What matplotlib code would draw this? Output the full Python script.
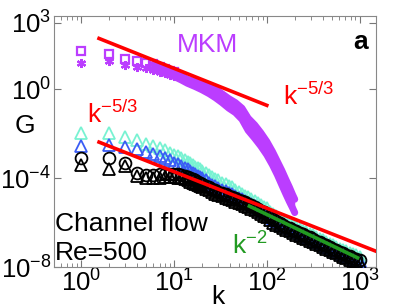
import numpy as np
import matplotlib
matplotlib.use('Agg')
import matplotlib.pyplot as plt

plt.rcParams['font.family'] = ['Liberation Sans', 'DejaVu Sans']
plt.rcParams['mathtext.fontset'] = 'custom'
plt.rcParams['mathtext.rm'] = 'Liberation Sans'
plt.rcParams['mathtext.it'] = 'Liberation Sans:italic'
plt.rcParams['mathtext.bf'] = 'Liberation Sans:bold'

# MKM spectrum (log10 G), squares and asterisks
mkm_k = [1, 2, 3, 4, 5, 6, 7, 8, 9, 10, 12, 14, 17, 20, 24, 28, 33, 39, 46, 54,
         63, 74, 86, 100, 115, 130, 145, 160, 175, 190, 200]
mkm_sq_logG = [1.73, 1.57, 1.35, 1.26, 1.20, 1.13, 1.02, 0.93, 0.84, 0.76, 0.60, 0.45,
               0.35, 0.25, 0.13, 0.0, -0.2, -0.42, -0.6, -0.85, -1.3, -1.6, -1.95,
               -2.35, -2.8, -3.25, -3.65, -4.05, -4.4, -4.75, -4.95]
mkm_st_logG = [1.17, 1.26, 1.08, 1.00, 0.94, 0.88, 0.80, 0.72, 0.65, 0.58, 0.42, 0.27,
               0.12, -0.02, -0.2, -0.38, -0.6, -0.85, -1.05, -1.35, -1.85, -2.2, -2.55,
               -2.95, -3.4, -3.85, -4.3, -4.7, -5.05, -5.35, -5.55]

# channel flow, Re=500 (log10 G)
ch_k = [1, 2, 3, 4, 5, 6, 7, 8, 9, 10, 11, 12, 13, 14, 15, 16, 17, 18, 19, 20,
        22, 24, 26, 28, 30, 33, 36, 39, 42, 46, 50, 54, 58, 63, 68, 74, 80, 87, 94, 100,
        108, 117, 127, 138, 150, 163, 177, 192, 208, 226, 245, 266, 289, 314, 341, 370,
        402, 437, 475, 516, 560, 608, 660, 717, 779, 846, 919, 1000]
cyan_logG = [-1.95, -1.95, -2.15, -2.3, -2.45, -2.55, -2.65, -2.75, -2.85, -2.95,
             -3.02, -3.1, -3.18, -3.25, -3.33, -3.4, -3.48, -3.54, -3.6, -3.66,
             -3.78, -3.86, -3.95, -4.02, -4.1, -4.2, -4.27, -4.33, -4.4, -4.52,
             -4.62, -4.7, -4.78, -4.86, -4.93, -5.02, -5.1, -5.2, -5.28, -5.35,
             -5.5, -5.62, -5.72, -5.82, -5.9, -5.98, -6.06, -6.13, -6.2, -6.28,
             -6.36, -6.43, -6.5, -6.57, -6.65, -6.72, -6.8, -6.88, -6.95, -7.03,
             -7.1, -7.17, -7.24, -7.3, -7.36, -7.43, -7.48, -7.53]
blue_logG = [-2.55, -2.5, -2.6, -2.7, -2.8, -2.9, -3.0, -3.1, -3.2, -3.3,
             -3.37, -3.45, -3.52, -3.6, -3.67, -3.75, -3.82, -3.88, -3.95, -4.0,
             -4.1, -4.2, -4.3, -4.37, -4.45, -4.52, -4.58, -4.65, -4.7, -4.8,
             -4.88, -4.95, -5.02, -5.1, -5.17, -5.25, -5.33, -5.42, -5.5, -5.57,
             -5.72, -5.85, -5.95, -6.05, -6.13, -6.2, -6.28, -6.35, -6.42, -6.5,
             -6.57, -6.64, -6.71, -6.78, -6.86, -6.93, -7.0, -7.08, -7.15, -7.23,
             -7.3, -7.37, -7.44, -7.5, -7.56, -7.63, -7.68, -7.74]
circ_logG = [-3.1, -3.1, -3.3, -3.75, -3.85, -3.85, -3.82, -3.8, -3.8, -3.8,
             -3.82, -3.85, -3.9, -3.95, -4.0, -4.05, -4.1, -4.15, -4.2, -4.25,
             -4.33, -4.4, -4.48, -4.54, -4.6, -4.66, -4.72, -4.78, -4.83, -4.9,
             -4.97, -5.03, -5.09, -5.16, -5.22, -5.3, -5.38, -5.46, -5.54, -5.6,
             -5.75, -5.85, -5.94, -6.02, -6.1, -6.18, -6.25, -6.32, -6.39, -6.46,
             -6.53, -6.6, -6.67, -6.74, -6.81, -6.88, -6.95, -7.03, -7.1, -7.17,
             -7.24, -7.31, -7.38, -7.45, -7.52, -7.58, -7.63, -7.68]
tri_logG = [-3.4, -3.6, -3.45, -3.9, -4.0, -4.0, -3.97, -3.95, -3.95, -3.95,
            -3.97, -4.0, -4.05, -4.1, -4.15, -4.2, -4.25, -4.3, -4.35, -4.4,
            -4.48, -4.55, -4.63, -4.69, -4.75, -4.81, -4.87, -4.93, -4.98, -5.05,
            -5.12, -5.18, -5.24, -5.31, -5.37, -5.45, -5.53, -5.61, -5.69, -5.75,
            -5.9, -6.0, -6.09, -6.17, -6.25, -6.33, -6.4, -6.47, -6.54, -6.61,
            -6.68, -6.75, -6.82, -6.89, -6.96, -7.03, -7.1, -7.18, -7.25, -7.32,
            -7.39, -7.46, -7.53, -7.6, -7.67, -7.73, -7.78, -7.83]

# guide lines (end points)
red1_k, red1_G = [1.56, 100], [195, 0.19]
red2_k, red2_G = [1.56, 1490], [4.2e-3, 5.2e-8]
green_k, green_G = [65, 950], [5.5e-6, 2.6e-8]

purple = '#BB3DFF'
cyan = '#78F2D2'
blue = '#3A5CF5'
green = '#229A22'

fig = plt.figure(figsize=(4.15, 3.08), dpi=100)
ax = fig.add_axes([0.130, 0.133, 0.776, 0.815])

mk = np.array(mkm_k)
sq = 10 ** np.array(mkm_sq_logG)
st = 10 ** np.array(mkm_st_logG)
band = mk >= 6
low = mk <= 10
ax.fill_between(mk[band], st[band], sq[band], color=purple, lw=0, zorder=2)
ax.plot(mk[band], sq[band], '-', color=purple, lw=5, solid_capstyle='round', zorder=2)
ax.plot(mk[band], st[band], '-', color=purple, lw=5, solid_capstyle='round', zorder=2)
ax.plot(mk[low], sq[low], 's', ms=5.5, mfc='none', mec=purple, mew=1.6, zorder=2)
ax.plot(mk[low], st[low], marker=(6, 2, 0), ls='none', ms=6.5, mec=purple, mew=1.6, zorder=2)

ck = np.array(ch_k)
ax.plot(ck, 10 ** np.array(cyan_logG), '^', ms=8.5, mfc='none', mec=cyan, mew=1.3, zorder=3)
ax.plot(ck, 10 ** np.array(blue_logG), '^', ms=8.5, mfc='none', mec=blue, mew=1.3, zorder=3)
ax.plot(ck, 10 ** np.array(tri_logG), '^', ms=8.5, mfc='none', mec='black', mew=1.3, zorder=3)
ax.plot(ck, 10 ** np.array(circ_logG), 'o', ms=8.5, mfc='none', mec='black', mew=1.3, zorder=3)

ax.plot(red1_k, red1_G, color='red', lw=2.6, zorder=4)
ax.plot(red2_k, red2_G, color='red', lw=2.6, zorder=4)
ax.plot(green_k, green_G, color=green, lw=2.6, zorder=5)

ax.set_xscale('log')
ax.set_yscale('log')
ax.set_xlim(0.51, 1500)
ax.set_ylim(1e-8, 10 ** 3.3)
ax.set_yticks([1e-8, 1e-4, 1, 1e3])
ax.set_yticklabels(['$10^{-8}$', '$10^{-4}$', '$10^{0}$', '$10^{3}$'])
ax.set_xticks([1, 10, 100, 1000])
ax.set_xticklabels(['$10^{0}$', '$10^{1}$', '$10^{2}$', '$10^{3}$'])
ax.yaxis.set_minor_locator(matplotlib.ticker.NullLocator())
ax.tick_params(which='both', direction='in', top=True, right=True,
               labelsize=18.5, color='#777777')
ax.tick_params(which='major', length=5, pad=2)
ax.tick_params(which='minor', length=3)
for s in ax.spines.values():
    s.set_color('#888888')

fs = 19
ax.text(0.509, -0.147, 'k', fontsize=fs, ha='center', va='baseline',
        transform=ax.transAxes)
ax.set_ylabel('G', fontsize=fs, rotation=0, va='center', ha='center')
ax.yaxis.set_label_coords(-0.09, 0.562)

ax.text(0.478, 0.884, 'MKM', color=purple, fontsize=fs, ha='center', va='center',
        transform=ax.transAxes)
ax.text(0.953, 0.896, 'a', color='black', fontsize=fs, fontweight='bold',
        ha='center', va='center', transform=ax.transAxes)
ax.text(0.711, 0.645, r'$\mathrm{k}^{-5/3}$', color='red', fontsize=fs,
        ha='left', va='baseline', transform=ax.transAxes)
ax.text(0.102, 0.574, r'$\mathrm{k}^{-5/3}$', color='red', fontsize=fs,
        ha='left', va='baseline', transform=ax.transAxes)
ax.text(0.553, 0.048, r'$\mathrm{k}^{-2}$', color=green, fontsize=fs,
        ha='left', va='baseline', transform=ax.transAxes)
ax.text(0.003, 0.143, 'Channel flow', color='black', fontsize=fs,
        ha='left', va='baseline', transform=ax.transAxes)
ax.text(0.003, 0.028, 'Re=500', color='black', fontsize=fs,
        ha='left', va='baseline', transform=ax.transAxes)

fig.savefig('out.png', dpi=100)
